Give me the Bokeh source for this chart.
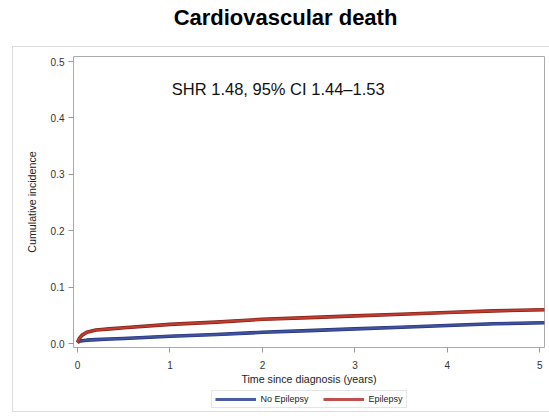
from bokeh.plotting import figure
from bokeh.models import (Label, Legend, LegendItem, FixedTicker, Div,
                          NumeralTickFormatter, Range1d)
from bokeh.layouts import column
from bokeh.embed import file_html
from bokeh.resources import INLINE

title_text = "Cardiovascular death"
annotation_text = "SHR 1.48, 95% CI 1.44\u20131.53"
x_label = "Time since diagnosis (years)"
y_label = "Cumulative incidence"
series_names = ["No Epilepsy", "Epilepsy"]

time_years = [0.0, 0.02, 0.05, 0.1, 0.2, 0.35, 0.5, 1.0, 1.5, 2.0, 2.5, 3.0, 3.5, 4.0, 4.5, 5.05]
no_epilepsy = [0.002, 0.004, 0.005, 0.006, 0.007, 0.008, 0.009, 0.013, 0.016, 0.020, 0.023, 0.026, 0.029, 0.032, 0.035, 0.037]
epilepsy = [0.002, 0.009, 0.015, 0.020, 0.024, 0.026, 0.028, 0.034, 0.038, 0.043, 0.046, 0.049, 0.052, 0.055, 0.058, 0.060]

x_ticks = [0, 1, 2, 3, 4, 5]
y_ticks = [0.0, 0.1, 0.2, 0.3, 0.4, 0.5]

FONT = "Liberation Sans"
colors = {"No Epilepsy": "#3f51a3", "Epilepsy": "#c23b2e"}
outline = {"No Epilepsy": "#2a3470", "Epilepsy": "#7a231b"}
legend_colors = {"No Epilepsy": "#4b5ba8", "Epilepsy": "#c0504d"}

title_div = Div(text=title_text, width=549, height=47, margin=(0, 0, 0, 0),
                styles={"font-family": FONT, "font-size": "22px", "font-weight": "bold",
                        "color": "#000", "text-align": "center",
                        "line-height": "36px", "text-indent": "22px",
                        "overflow": "hidden"})

p = figure(frame_width=471, frame_height=291, output_backend="svg", toolbar_location=None,
           x_range=Range1d(-0.043, 5.05), y_range=Range1d(-0.007, 0.509),
           min_border_left=60, min_border_right=5, min_border_top=9, min_border_bottom=40,
           margin=(0, 0, 0, 0))
p.background_fill_color = "white"
p.border_fill_color = "white"
p.outline_line_color = "#aaaaaa"
p.outline_line_width = 1
p.grid.visible = False

for ax in (p.xaxis[0], p.yaxis[0]):
    ax.axis_line_color = None
    ax.major_tick_line_color = "#999999"
    ax.minor_tick_line_color = None
    ax.major_tick_in = 0
    ax.major_tick_out = 5
    ax.major_label_text_font = FONT
    ax.major_label_text_font_size = "7.5pt"
    ax.major_label_text_color = "#333333"
    ax.axis_label_text_font = FONT
    ax.axis_label_text_font_size = "8pt"
    ax.axis_label_text_font_style = "normal"
    ax.axis_label_text_color = "#222222"

p.xaxis[0].ticker = FixedTicker(ticks=x_ticks)
p.yaxis[0].ticker = FixedTicker(ticks=y_ticks)
p.yaxis[0].formatter = NumeralTickFormatter(format="0.0")
p.xaxis[0].axis_label = x_label
p.yaxis[0].axis_label = y_label
p.xaxis[0].major_label_standoff = 8
p.xaxis[0].axis_label_standoff = 1
p.yaxis[0].major_label_standoff = 4
p.yaxis[0].axis_label_standoff = 10

series_vals = [no_epilepsy, epilepsy]
for name, vals in zip(series_names, series_vals):
    p.line(time_years, vals, line_color=outline[name], line_width=3.6, line_join="round")
    p.line(time_years, vals, line_color=colors[name], line_width=2.2, line_join="round")

p.add_layout(Label(x=1.02, y=0.452, text=annotation_text, text_font=FONT,
                   text_font_size="16.5px", text_color="#111111",
                   text_baseline="middle", text_align="left"))

# separate strip holding the legend (below the x-axis title); its ranges keep the
# series out of view so only the legend entries show
lf = figure(width=536, height=24, output_backend="svg", toolbar_location=None,
            x_range=Range1d(100, 101), y_range=Range1d(100, 101),
            x_axis_type=None, y_axis_type=None,
            min_border_left=50, min_border_right=0, min_border_top=0, min_border_bottom=0,
            margin=(0, 0, 0, 0))
lf.grid.visible = False
lf.outline_line_color = None
lf.background_fill_color = "white"
lf.border_fill_color = "white"
items = []
for name, vals in zip(series_names, series_vals):
    r = lf.line(time_years, vals, line_color=legend_colors[name], line_width=3)
    items.append(LegendItem(label=name, renderers=[r]))
legend = Legend(items=items, orientation="horizontal", location="center",
                label_text_font=FONT, label_text_font_size="9px",
                label_text_color="#222222",
                border_line_color="#cccccc", padding=3, spacing=14,
                glyph_width=41, glyph_height=10, label_height=10,
                label_standoff=5, margin=0)
lf.add_layout(legend, "center")

inner = column(p, lf, spacing=0, margin=(0, 0, 0, 13),
               styles={"outline": "1px solid #dddddd"})
layout = column(title_div, inner, spacing=0)
open("out.html", "w").write(file_html(layout, INLINE))
